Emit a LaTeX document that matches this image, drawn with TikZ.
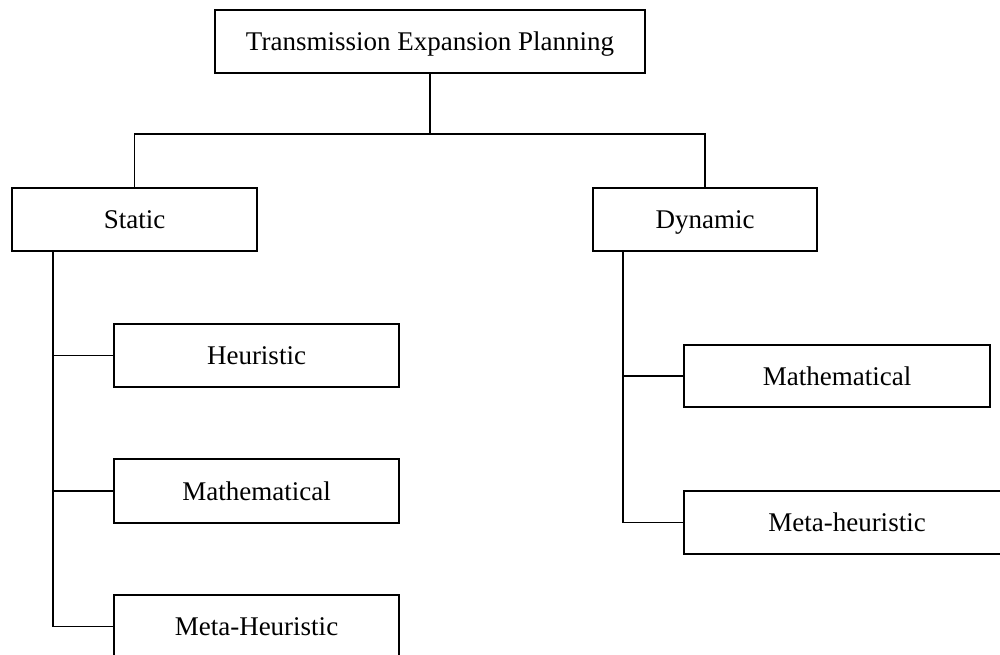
\documentclass[tikz,border=0pt]{standalone}
\usepackage{fontspec}
\setmainfont{Liberation Serif}
\begin{document}
\begin{tikzpicture}[x=1pt,y=-1pt,
  box/.style={draw=black, line width=1.8pt, rectangle, inner sep=0pt,
    minimum height=63pt, text height=18pt, text depth=0pt,
    font=\fontsize{27}{32}\selectfont},
  link/.style={draw=black, line width=1.7pt}]
\useasboundingbox (0,0) rectangle (1000,654);
\clip (0,0) rectangle (1000,654);

% root and the two planning horizons
\node[box, minimum width=430pt] (tep) at (430,41.5) {Transmission Expansion Planning};
\node[box, minimum width=245pt] (static) at (134.5,219.5) {Static};
\node[box, minimum width=224pt] (dynamic) at (705,219.5) {Dynamic};

% static methods
\node[box, minimum width=285pt] (sheur) at (256.5,355.5) {Heuristic};
\node[box, minimum width=285pt, minimum height=64pt] (smath) at (256.5,491) {Mathematical};
\node[box, minimum width=285pt] (smeta) at (256.5,626.5) {Meta-Heuristic};

% dynamic methods
\node[box, minimum width=306pt, minimum height=62pt] (dmath) at (837,376) {Mathematical};
\node[box, minimum width=326pt] (dmeta) at (847,522.5) {Meta-heuristic};

% tree from the root
\coordinate (split) at (430,134);
\draw[link] (tep.south) -- (split);
\draw[link] (static.north) |- (split) -| (dynamic.north);

% static branch
\coordinate (sbus) at (53,251);
\draw[link] (sbus) |- (smeta.west);
\draw[link] (sbus) |- (sheur.west);
\draw[link] (sbus) |- (smath.west);

% dynamic branch
\coordinate (dbus) at (623,251);
\draw[link] (dbus) |- (dmeta.west);
\draw[link] (dbus) |- (dmath.west);
\end{tikzpicture}
\end{document}
